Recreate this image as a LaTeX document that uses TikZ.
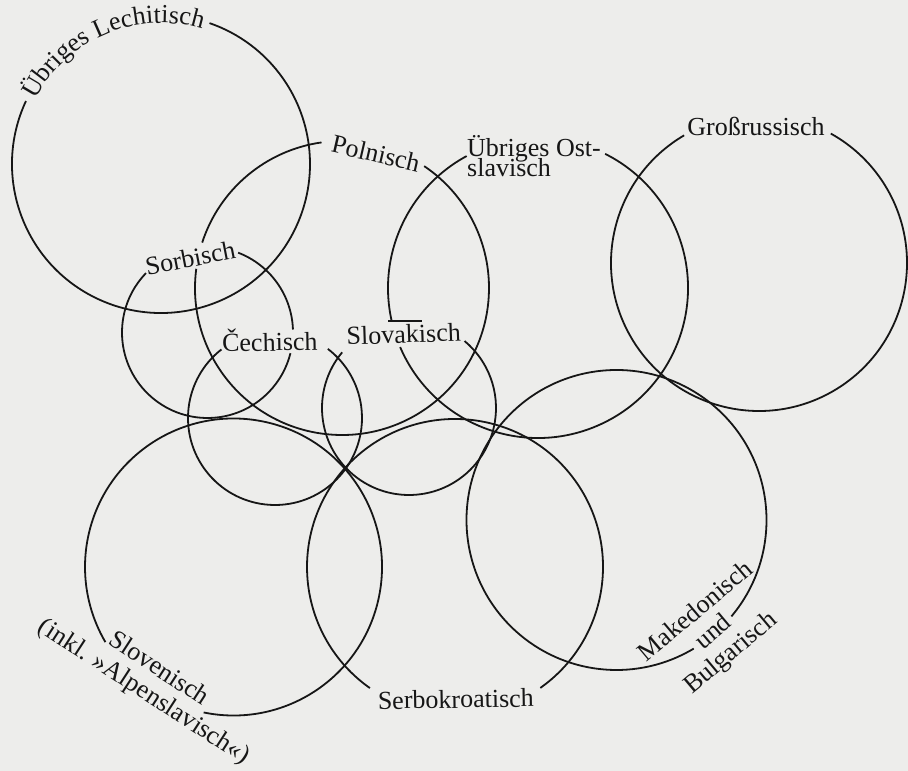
\documentclass[tikz,border=0pt]{standalone}
\usepackage{fontspec}
\setmainfont{Liberation Serif}
\usepackage{tikz}
\usetikzlibrary{decorations.text}
\definecolor{paper}{RGB}{237,237,235}
\definecolor{ink}{RGB}{22,22,22}

\begin{document}
\begin{tikzpicture}[x=1pt,y=1pt,
    ring/.style={draw=ink,line width=1.8pt},
    lbl/.style={font=\fontsize{26}{26}\selectfont,text=ink,inner sep=0pt,anchor=base},
    blk/.style={font=\fontsize{26}{27}\selectfont,text=ink,inner sep=0pt,align=center}]
  \fill[paper] (0,0) rectangle (908,771);
  \useasboundingbox (0,0) rectangle (908,771);
  % circles, each with a gap for its name: centre x/centre y/radius/from/to
  \foreach \cx/\cy/\r/\a/\b in {161/607/149/155/431,
      342/483/147/98/162, 342/483/147/172.5/416,
      207.5/438.5/85.5/136/346, 207.5/438.5/85.5/2/69,
      275/353/87/128/412.6, 409/363/87/140.2/410.3,
      538/483/150/118.4/192.7, 538/483/150/203.2/423.4,
      759/508/148/120.4/421,
      455/204/148/-54.8/234.9, 233.5/204/148.5/-101.6/210.4,
      616.5/251/150/-40/301}
    \draw[ring] (\cx,\cy) ++(\a:\r) arc[start angle=\a, end angle=\b, radius=\r];
  \draw[ring] (388,450) -- (422,450);
  \path[decorate,decoration={text along path,text color=ink,text align=center,
      text={|\fontsize{26}{26}\selectfont|Übriges Lechitisch}}]
    (161,607) ++(156:141) arc[start angle=156, end angle=70, radius=141];
  \node[lbl,rotate=-13] (polnisch) at (374,609) {Polnisch};
  \node[lbl,rotate=11] (sorbisch) at (192,504) {Sorbisch};
  \node[lbl,rotate=1] (cechisch) at (270,420) {Čechisch};
  \node[lbl,rotate=2] (slovakisch) at (404,428) {Slovakisch};
  \node[lbl,anchor=base west] (ostslav) at (467,614) {Übriges Ost-};
  \node[lbl,anchor=base west] (ostslavb) at ([yshift=-20pt]ostslav.base west) {slavisch};
  \node[lbl] (grossruss) at (756,635) {Großrussisch};
  \node[lbl,rotate=1] (serbokroat) at (456,63) {Serbokroatisch};
  \node[blk,rotate=-33] (sloven) at (151,90) {Slovenisch\\(inkl. »Alpenslavisch«)};
  \node[blk,rotate=40] (makedon) at (714,138) {Makedonisch\\und\\Bulgarisch};
\end{tikzpicture}
\end{document}
